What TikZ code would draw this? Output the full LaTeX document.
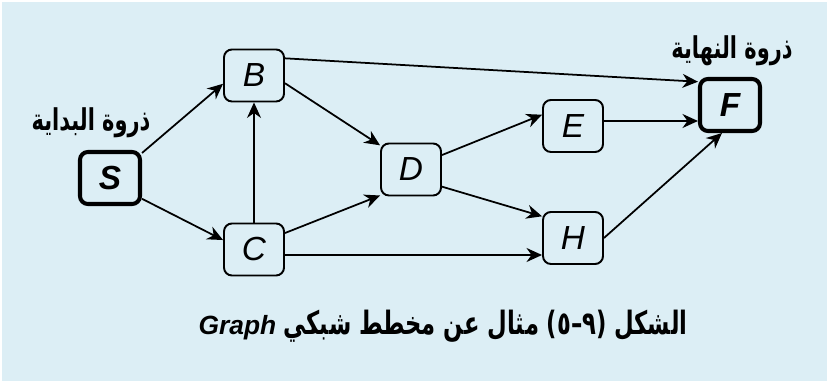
\documentclass[tikz,border=0pt]{standalone}
\usepackage{fontspec}
\setmainfont{Liberation Sans}
\newfontfamily\arabicfont[Script=Arabic]{DejaVu Sans}
\TeXXeTstate=1
\usetikzlibrary{arrows.meta,positioning,calc}
\definecolor{ink}{HTML}{000000}
\definecolor{sky}{HTML}{DCEEF5}
\newcommand\arabtext[2]{\scalebox{#1}[1.22]{\arabicfont\bfseries #2}}
\tikzset{
  vert/.style={draw=ink, line width=1.1pt, rounded corners=4.5pt, minimum width=1.2cm, minimum height=1.04cm, inner sep=0pt, font=\fontsize{19}{19}\selectfont\itshape},
  term/.style={vert, line width=2.3pt, font=\fontsize{19}{19}\selectfont\bfseries\itshape},
  tag/.style={font=\fontsize{14}{14}\selectfont, inner sep=0pt},
  flow/.style={-{Stealth[length=3.1mm, width=2.8mm, inset=1mm]}, draw=ink, line width=1pt},
}

\begin{document}
\begin{tikzpicture}
\fill[white] (0,0) rectangle (16.54,7.62);
\fill[sky] (0.04,0) rectangle (16.54,7.58);
\useasboundingbox (0,0) rectangle (16.54,7.62);
% vertices
\node[term] (S) at (2.2,4.06) {S};
\node[vert] (B) at (5.08,6.11) {B};
\node[vert] (C) at (5.08,2.63) {C};
\node[vert] (D) at (8.22,4.23) {D};
\node[vert] (E) at (11.46,5.10) {E};
\node[vert] (H) at (11.46,2.86) {H};
\node[term] (F) at (14.6,5.52) {F};
% labels
\node[tag] (startlbl) at (1.82,5.16) {\arabtext{0.85}{\beginR ذروة البداية\endR}};
\node[tag] (endlbl) at (14.64,6.6) {\arabtext{0.85}{\beginR ذروة النهاية\endR}};
\node[tag, font=\fontsize{15}{15}\selectfont] (caption) at (8.86,1.1) {{\bfseries\itshape Graph}\ \arabtext{0.86}{\beginR الشكل (٩–٥) مثال عن مخطط شبكي\endR}};
% edges
\draw[flow] (S.38) -- (B.195);
\draw[flow] (S.-33) -- (C.163);
\draw[flow, line width=0.7pt] (C.north) -- (B.south);
\draw[flow] (B.-14) -- (D.142);
\draw[flow] (C.28) -- (D.220);
\draw[flow] (B.29) -- (F.144);
\draw[flow] (D.25) -- (E.160);
\draw[flow] (D.-29) -- (H.145);
\draw[flow] ([yshift=-0.11cm]C.east) -- ([yshift=-0.11cm]C.east -| H.west);
\draw[flow] ([yshift=0.1cm]E.east) -- ([yshift=0.1cm]E.east -| F.west);
\draw[flow] (H.east) -- (F.254);
\end{tikzpicture}
\end{document}
